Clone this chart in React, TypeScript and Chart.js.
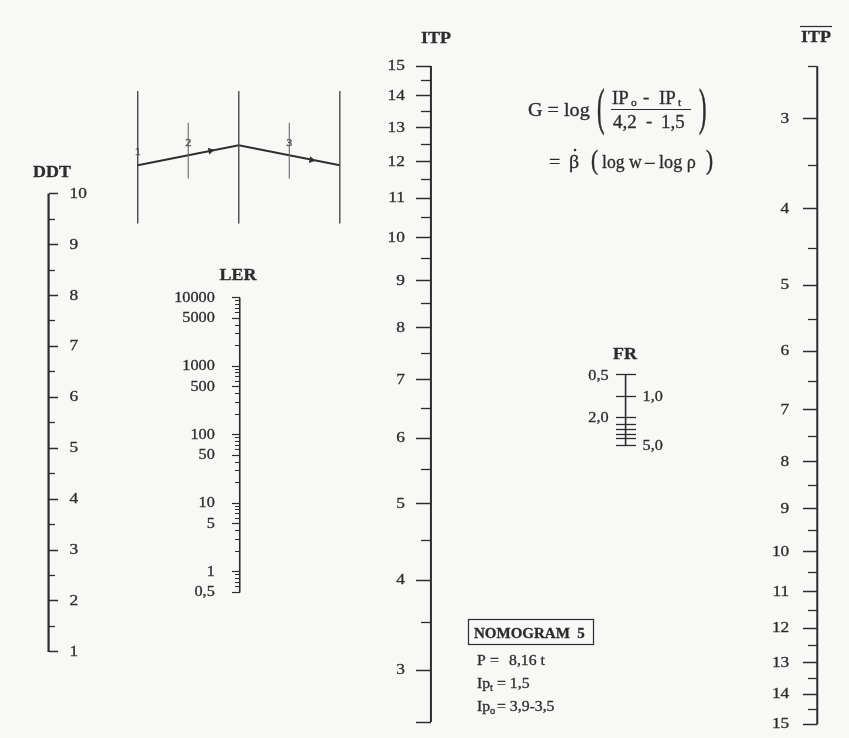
import { useEffect, useRef } from 'react';
import { Chart, registerables } from 'chart.js';

Chart.register(...registerables);

const W = 849;
const H = 738;

// ---- DDT scale ----
const ddtMajor = [1, 2, 3, 4, 5, 6, 7, 8, 9, 10];
const ddtLabels = ['1', '2', '3', '4', '5', '6', '7', '8', '9', '10'];
const ddtMinor = [1.5, 2.5, 3.5, 4.5, 5.5, 6.5, 7.5, 8.5, 9.5];

// ---- LER scale (logarithmic) ----
const lerMajor = [0.5, 1, 5, 10, 50, 100, 500, 1000, 5000, 10000];
const lerLabels = ['0,5', '1', '5', '10', '50', '100', '500', '1000', '5000', '10000'];
const lerMinor = [
  0.6, 0.7, 0.8, 0.9, 2, 3, 4, 6, 7, 8, 9, 20, 30, 40, 60, 70, 80, 90,
  200, 300, 400, 600, 700, 800, 900, 2000, 3000, 4000, 6000, 7000, 8000, 9000,
];

// ---- ITP scale ----
const itpMajor = [2.5, 3, 4, 5, 6, 7, 8, 9, 10, 11, 12, 13, 14, 15];
const itpLabelValues = [3, 4, 5, 6, 7, 8, 9, 10, 11, 12, 13, 14, 15];
const itpLabels = ['3', '4', '5', '6', '7', '8', '9', '10', '11', '12', '13', '14', '15'];
const itpMinor = [3.5, 4.5, 5.5, 6.5, 7.5, 8.5, 9.5, 10.5, 11.5, 12.5, 13.5, 14.5];

// ---- ITP (inverted) scale ----
const itpBarMajor = [3, 4, 5, 6, 7, 8, 9, 10, 11, 12, 13, 14, 15];
const itpBarLabels = ['3', '4', '5', '6', '7', '8', '9', '10', '11', '12', '13', '14', '15'];
const itpBarMinor = [2.5, 3.5, 4.5, 5.5, 6.5, 7.5, 8.5, 9.5, 10.5, 11.5, 12.5, 13.5, 14.5];

// ---- FR scale (logarithmic) ----
const frTicks = [0.5, 1, 2, 2.5, 3, 3.5, 4, 5];
const frLabelValues = [0.5, 1, 2, 5];
const frLabels = ['0,5', '1,0', '2,0', '5,0'];
const frLabelSide = [-1, 1, -1, 1];

// ---- key sketch: three parallel scales and a reading path ----
const keyAxes = [0, 1, 2];
const keyMarks = [0.5, 1.5];
const keyPath = [0.44, 0.59, 0.44];
const keyArrowX = [0.72, 1.72];
const keyArrowY = [0.55, 0.48];
const keyArrowRot = [79, 101];

// nomogram function of the ITP scales
const itpT = (v: number) => Math.log10(v + 2);

// ---- layout (pixels) ----
const POS = { ddt: 45, ler: 238, itp: 431, itpBar: 821, fr: 627.5 };

type Fit = { min: number; max: number; reverse: boolean };

function fitY(t1: number, p1: number, t2: number, p2: number): Fit {
  const k = (t2 - t1) / (p2 - p1);
  const tTop = t1 + (0 - p1) * k;
  const tBot = t1 + (H - p1) * k;
  return tTop > tBot
    ? { min: tBot, max: tTop, reverse: false }
    : { min: tTop, max: tBot, reverse: true };
}
function fitX(v1: number, p1: number, v2: number, p2: number) {
  const k = (v2 - v1) / (p2 - p1);
  return { min: v1 - p1 * k, max: v1 + (W - p1) * k };
}
const logFit = (f: Fit): Fit => ({ min: Math.pow(10, f.min), max: Math.pow(10, f.max), reverse: f.reverse });

const ddtFit = fitY(1, 655, 10, 191.7);
const lerFit = logFit(fitY(0, 574, 4, 297));
const itpFit = fitY(itpT(3), 673.3, itpT(15), 62.7);
const itpBarFit = fitY(itpT(3), 115.7, itpT(15), 728.3);
const frFit = logFit(fitY(Math.log10(0.5), 375, Math.log10(5), 446.5));
const keyX = fitX(0, 135, 2, 339);
const keyY = fitY(0, 222, 1, 88);

const INK = '#2c2c2c';
const SERIF = '"Liberation Serif", "Times New Roman", Times, serif';

// tick marks of one scale; positive len draws to the left of the line, negative to the right
function tickScale(type: string, fit: Fit, pos: number, values: number[], len: number, width = 1.3) {
  return {
    type,
    axis: 'y',
    position: { x: pos },
    min: fit.min,
    max: fit.max,
    reverse: fit.reverse,
    bounds: 'data',
    afterBuildTicks: (scale: any) => {
      scale.ticks = values.map((v) => ({ value: v }));
    },
    ticks: { display: false },
    border: { display: false },
    grid: {
      display: true,
      drawOnChartArea: false,
      drawTicks: true,
      tickLength: len,
      tickColor: INK,
      tickWidth: width,
    },
  };
}

// printed text, slightly widened and with a thin outline for a heavier print
function put(
  ctx: CanvasRenderingContext2D,
  text: string,
  x: number,
  y: number,
  size: number,
  o: { bold?: boolean; align?: CanvasTextAlign; baseline?: CanvasTextBaseline; sx?: number; sy?: number; color?: string } = {}
) {
  const sx = o.sx ?? 1.12;
  ctx.save();
  ctx.font = `${o.bold ? 'bold ' : ''}${size}px ${SERIF}`;
  ctx.fillStyle = o.color ?? INK;
  ctx.strokeStyle = o.color ?? INK;
  ctx.lineWidth = 0.3;
  ctx.textAlign = o.align ?? 'left';
  ctx.textBaseline = o.baseline ?? 'middle';
  ctx.translate(x, y);
  ctx.scale(sx, o.sy ?? 1);
  ctx.fillText(text, 0, 0);
  ctx.strokeText(text, 0, 0);
  ctx.restore();
}

const paperPlugin = {
  id: 'paper',
  beforeDraw(chart: any) {
    const { ctx, width, height } = chart;
    ctx.save();
    ctx.fillStyle = '#f8f8f6';
    ctx.fillRect(0, 0, width, height);
    ctx.restore();
  },
};

const textPlugin = {
  id: 'nomogramText',
  afterDraw(chart: any) {
    const ctx: CanvasRenderingContext2D = chart.ctx;
    const s = chart.scales;
    const px = (v: number) => s.x.getPixelForValue(v);

    // scale titles
    put(ctx, 'DDT', 52, 173, 16, { bold: true, align: 'center' });
    put(ctx, 'LER', 238, 276, 16, { bold: true, align: 'center' });
    put(ctx, 'ITP', 436, 39, 16, { bold: true, align: 'center' });
    put(ctx, 'ITP', 816, 38, 16, { bold: true, align: 'center' });
    ctx.save();
    ctx.strokeStyle = INK;
    ctx.lineWidth = 1.2;
    ctx.beginPath();
    ctx.moveTo(800, 26.5);
    ctx.lineTo(832, 26.5);
    ctx.stroke();
    ctx.restore();
    put(ctx, 'FR', 625, 355, 16, { bold: true, align: 'center' });

    // tick labels
    ddtMajor.forEach((v, i) => put(ctx, ddtLabels[i], px(POS.ddt) + 21, s.yDDT.getPixelForValue(v), 15.5));
    lerMajor.forEach((v, i) =>
      put(ctx, lerLabels[i], px(POS.ler) - 25, s.yLER.getPixelForValue(v), 14.5, { align: 'right' })
    );
    itpLabelValues.forEach((v, i) =>
      put(ctx, itpLabels[i], px(POS.itp) - 26, s.yITP.getPixelForValue(itpT(v)), 15.5, { align: 'right' })
    );
    itpBarMajor.forEach((v, i) =>
      put(ctx, itpBarLabels[i], px(POS.itpBar) - 28, s.yITPB.getPixelForValue(itpT(v)), 15.5, { align: 'right' })
    );
    frLabelValues.forEach((v, i) =>
      put(ctx, frLabels[i], px(POS.fr) + frLabelSide[i] * 17, s.yFR.getPixelForValue(v) + 1, 14.5, {
        align: frLabelSide[i] < 0 ? 'right' : 'left',
      })
    );

    // key sketch numbering
    const kx = (v: number) => s.xk.getPixelForValue(v);
    const ky = (v: number) => s.yk.getPixelForValue(v);
    put(ctx, '1', kx(0), ky(0.54), 11, { align: 'center', color: '#555' });
    put(ctx, '2', kx(0.5), ky(0.61), 11, { align: 'center', color: '#555' });
    put(ctx, '3', kx(1.5), ky(0.61), 11, { align: 'center', color: '#555' });

    // formula
    put(ctx, 'G = log', 528, 116, 18, { baseline: 'alphabetic' });
    put(ctx, '(', 597, 111, 20, { sy: 2.5 });
    put(ctx, ')', 699, 111, 20, { sy: 2.5 });
    put(ctx, 'IP', 612, 104, 18, { baseline: 'alphabetic', sx: 1.05 });
    put(ctx, 'o', 631, 106, 11, { baseline: 'alphabetic', sx: 1.05 });
    put(ctx, '-', 643, 103, 18, { baseline: 'alphabetic', sx: 1.05 });
    put(ctx, 'IP', 659, 104, 18, { baseline: 'alphabetic', sx: 1.05 });
    put(ctx, 't', 678, 106, 11, { baseline: 'alphabetic', sx: 1.05 });
    ctx.save();
    ctx.strokeStyle = INK;
    ctx.lineWidth = 1.2;
    ctx.beginPath();
    ctx.moveTo(611, 109.5);
    ctx.lineTo(691, 109.5);
    ctx.stroke();
    ctx.restore();
    put(ctx, '4,2', 613, 128, 18, { baseline: 'alphabetic', sx: 1.05 });
    put(ctx, '-', 646, 127, 18, { baseline: 'alphabetic', sx: 1.05 });
    put(ctx, '1,5', 661, 128, 18, { baseline: 'alphabetic', sx: 1.05 });

    put(ctx, '=', 549, 168, 19, { baseline: 'alphabetic', sx: 1.05 });
    put(ctx, 'β', 569, 168, 19, { baseline: 'alphabetic', sx: 1.05 });
    ctx.save();
    ctx.fillStyle = INK;
    ctx.beginPath();
    ctx.arc(575, 150, 1.3, 0, Math.PI * 2);
    ctx.fill();
    ctx.restore();
    put(ctx, '(', 591, 162, 19, { sy: 1.45 });
    put(ctx, 'log w', 602, 168, 19, { baseline: 'alphabetic', sx: 0.93 });
    put(ctx, '–', 645, 168, 19, { baseline: 'alphabetic', sx: 1.0 });
    put(ctx, 'log ρ', 659, 168, 19, { baseline: 'alphabetic', sx: 0.96 });
    put(ctx, ')', 706, 162, 19, { sy: 1.45 });

    // nomogram caption
    ctx.save();
    ctx.strokeStyle = INK;
    ctx.lineWidth = 1.2;
    ctx.strokeRect(468.5, 619.5, 125, 25);
    ctx.restore();
    put(ctx, 'NOMOGRAM  5', 474, 638, 15, { bold: true, baseline: 'alphabetic', sx: 1.0 });
    put(ctx, 'P', 477, 665, 15, { baseline: 'alphabetic', sx: 1.05 });
    put(ctx, '=', 490, 665, 15, { baseline: 'alphabetic', sx: 1.05 });
    put(ctx, '8,16 t', 509, 665, 15, { baseline: 'alphabetic', sx: 1.05 });
    put(ctx, 'Ip', 477, 688, 15, { baseline: 'alphabetic', sx: 1.05 });
    put(ctx, 't', 490, 691, 10, { baseline: 'alphabetic', sx: 1.05 });
    put(ctx, '= 1,5', 497, 688, 15, { baseline: 'alphabetic', sx: 1.05 });
    put(ctx, 'Ip', 477, 711, 15, { baseline: 'alphabetic', sx: 1.05 });
    put(ctx, 'o', 490, 714, 10, { baseline: 'alphabetic', sx: 1.05 });
    put(ctx, '= 3,9-3,5', 497, 711, 15, { baseline: 'alphabetic', sx: 1.05 });
  },
};

function axisLine(yAxisID: string, x: number, lo: number, hi: number, width: number) {
  return {
    data: [
      { x, y: lo },
      { x, y: hi },
    ],
    xAxisID: 'x',
    yAxisID,
    showLine: true,
    borderColor: INK,
    borderWidth: width,
    pointRadius: 0,
    fill: false,
  };
}

export default function App() {
  const ref = useRef<HTMLCanvasElement | null>(null);

  useEffect(() => {
    if (!ref.current) return;

    const keyLines = keyAxes.map((a) => ({
      data: [
        { x: a, y: 0 },
        { x: a, y: 1 },
      ],
      xAxisID: 'xk',
      yAxisID: 'yk',
      showLine: true,
      borderColor: '#4a4a4a',
      borderWidth: 1.4,
      pointRadius: 0,
    }));
    const keyMarkLines = keyMarks.map((a) => ({
      data: [
        { x: a, y: 0.34 },
        { x: a, y: 0.76 },
      ],
      xAxisID: 'xk',
      yAxisID: 'yk',
      showLine: true,
      borderColor: '#6a6a6a',
      borderWidth: 1.1,
      pointRadius: 0,
    }));

    const chart = new Chart(ref.current, {
      type: 'scatter',
      data: {
        datasets: [
          axisLine('yDDT', POS.ddt, 1, 10, 2.2),
          axisLine('yLER', POS.ler, 0.5, 10000, 1.6),
          axisLine('yITP', POS.itp, itpT(2.5), itpT(15), 2),
          axisLine('yITPB', POS.itpBar, itpT(2.5), itpT(15), 2),
          axisLine('yFR', POS.fr, 0.5, 5, 1.6),
          ...keyLines,
          ...keyMarkLines,
          {
            data: keyAxes.map((a, i) => ({ x: a, y: keyPath[i] })),
            xAxisID: 'xk',
            yAxisID: 'yk',
            showLine: true,
            borderColor: '#2e2e2e',
            borderWidth: 2,
            pointRadius: 0,
          },
          {
            data: keyArrowX.map((a, i) => ({ x: a, y: keyArrowY[i] })),
            xAxisID: 'xk',
            yAxisID: 'yk',
            showLine: false,
            pointStyle: 'triangle',
            pointRadius: 4,
            rotation: keyArrowRot,
            backgroundColor: '#2e2e2e',
            borderColor: '#2e2e2e',
            borderWidth: 0,
          },
        ] as any,
      },
      options: {
        responsive: false,
        animation: false,
        events: [],
        layout: { padding: 0 },
        plugins: { legend: { display: false }, tooltip: { enabled: false } },
        scales: {
          x: { type: 'linear', min: 0, max: W, display: false },
          xk: { type: 'linear', axis: 'x', min: keyX.min, max: keyX.max, display: false },
          yk: { type: 'linear', axis: 'y', min: keyY.min, max: keyY.max, reverse: keyY.reverse, display: false },
          yDDT: tickScale('linear', ddtFit, POS.ddt, ddtMajor, -9, 1.5),
          yDDTm: tickScale('linear', ddtFit, POS.ddt, ddtMinor, -6, 1.3),
          yLER: tickScale('logarithmic', lerFit, POS.ler, lerMajor, 8, 1.2),
          yLERm: tickScale('logarithmic', lerFit, POS.ler, lerMinor, 5, 1),
          yITP: tickScale('linear', itpFit, POS.itp, itpMajor.map(itpT), 15, 1.5),
          yITPm: tickScale('linear', itpFit, POS.itp, itpMinor.map(itpT), 10, 1.3),
          yITPB: tickScale('linear', itpBarFit, POS.itpBar, itpBarMajor.map(itpT), 14, 1.5),
          yITPBm: tickScale('linear', itpBarFit, POS.itpBar, itpBarMinor.map(itpT), 9, 1.3),
          yFR: tickScale('logarithmic', frFit, POS.fr, frTicks, -10, 1.3),
          yFR2: tickScale('logarithmic', frFit, POS.fr, frTicks, 10, 1.3),
        } as any,
      },
      plugins: [paperPlugin, textPlugin],
    });

    // redraw once the serif face is ready so the labels use it
    let alive = true;
    const fonts = (document as any).fonts;
    if (fonts && fonts.load) {
      Promise.all([
        fonts.load('16px "Liberation Serif"'),
        fonts.load('bold 16px "Liberation Serif"'),
      ])
        .then(() => {
          if (alive) chart.draw();
        })
        .catch(() => {});
    }

    return () => {
      alive = false;
      chart.destroy();
    };
  }, []);

  return (
    <div style={{ position: 'fixed', left: 0, top: 0, width: W, height: H }}>
      <canvas ref={ref} width={W} height={H} style={{ display: 'block' }} />
    </div>
  );
}
